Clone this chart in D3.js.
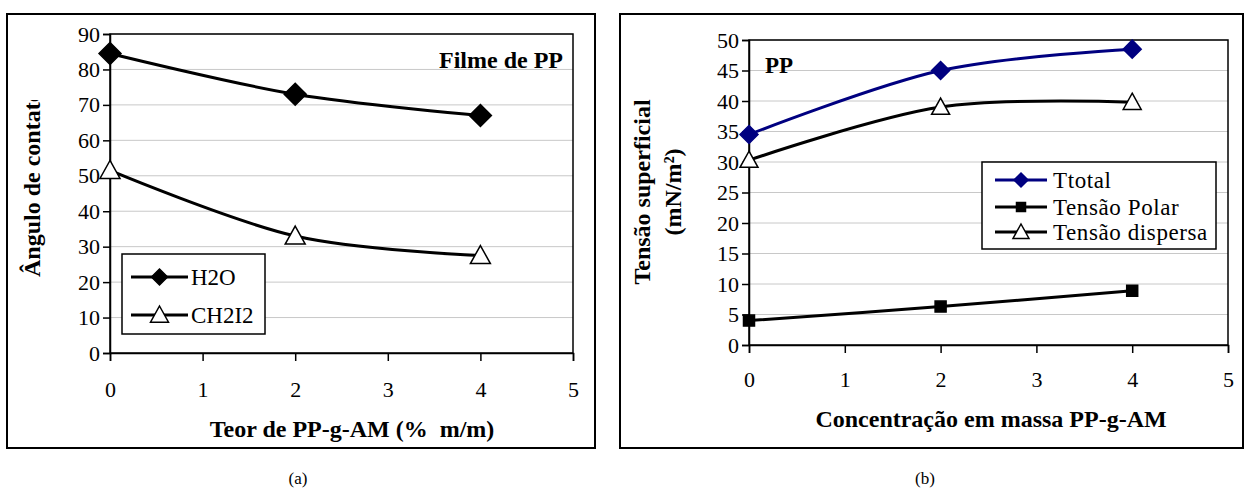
<!DOCTYPE html>
<html>
<head>
<meta charset="utf-8">
<script src="https://cdn.jsdelivr.net/npm/d3@7"></script>
<style>
  body { margin: 0; background: #fff; }
  svg text { font-family: "Liberation Serif", "Times New Roman", serif !important; fill: #000; }
</style>
</head>
<body>
<div id="chart"></div>
<script>
// valores
const teor = [0, 2, 4];
const anguloH2O = [84.5, 73, 67];
const anguloCH2I2 = [51.5, 33, 27.5];
const tensaoTotal = [34.5, 45, 48.5];
const tensaoPolar = [4, 6.3, 8.9];
const tensaoDispersa = [30.3, 39, 39.8];
const xTicks = [0, 1, 2, 3, 4, 5];
const yTicksA = [0, 10, 20, 30, 40, 50, 60, 70, 80, 90];
const yTicksB = [0, 5, 10, 15, 20, 25, 30, 35, 40, 45, 50];

const svg = d3.select('#chart')
  .append('svg')
  .attr('width', 1245)
  .attr('height', 497);

const diamond = r => `M0,${-r}L${r},0L0,${r}L${-r},0Z`;
const triangle = r => `M0,${-r}L${r},${r * 0.8}L${-r},${r * 0.8}Z`;
const square = r => `M${-r},${-r}H${r}V${r}H${-r}Z`;

function panel(o) {
  const g = svg.append('g');

  // moldura externa
  g.append('rect')
    .attr('x', o.box[0]).attr('y', o.box[1])
    .attr('width', o.box[2] - o.box[0]).attr('height', o.box[3] - o.box[1])
    .attr('fill', 'none').attr('stroke', '#000').attr('stroke-width', 2);

  const x = d3.scaleLinear().domain([0, 5]).range([o.plot[0], o.plot[2]]);
  const y = d3.scaleLinear().domain([0, o.yMax]).range([o.plot[3], o.plot[1]]);

  // grade
  g.append('g').selectAll('line')
    .data(o.yTicks.slice(1))
    .enter().append('line')
    .attr('x1', o.plot[0]).attr('x2', o.plot[2])
    .attr('y1', d => y(d)).attr('y2', d => y(d))
    .attr('stroke', '#c8c8c8').attr('stroke-width', 1);

  g.append('rect')
    .attr('x', o.plot[0]).attr('y', o.plot[1])
    .attr('width', o.plot[2] - o.plot[0]).attr('height', o.plot[3] - o.plot[1])
    .attr('fill', 'none').attr('stroke', '#000').attr('stroke-width', 1.5);

  const yAxis = g.append('g')
    .attr('transform', `translate(${o.plot[0]},0)`)
    .call(d3.axisLeft(y).tickValues(o.yTicks).tickFormat(d3.format('d')).tickSize(7).tickPadding(3));
  const xAxis = g.append('g')
    .attr('transform', `translate(0,${o.plot[3]})`)
    .call(d3.axisBottom(x).tickValues(xTicks).tickFormat(d3.format('d')).tickSize(8).tickPadding(o.xPad));
  [yAxis, xAxis].forEach(a => {
    a.attr('font-size', null).attr('font-family', null);
    a.select('.domain').attr('stroke', '#000').attr('stroke-width', 1.5);
    a.selectAll('.tick line').attr('stroke', '#000').attr('stroke-width', 1.5);
    a.selectAll('text').style('font-size', '22px');
  });

  // suavizacao como no Excel (Catmull-Rom uniforme)
  const line = d3.line()
    .x((d, i) => x(teor[i]))
    .y(d => y(d))
    .curve(d3.curveCardinal.tension(0));

  o.series.forEach(s => {
    g.append('path')
      .datum(s.values)
      .attr('d', line)
      .attr('fill', 'none')
      .attr('stroke', s.color)
      .attr('stroke-width', 3);
    g.append('g').selectAll('path')
      .data(s.values)
      .enter().append('path')
      .attr('transform', (d, i) => `translate(${x(teor[i])},${y(d)})`)
      .attr('d', s.shape(s.size))
      .attr('fill', s.fill)
      .attr('stroke', s.fill === '#fff' ? '#000' : s.fill)
      .attr('stroke-width', 1.5);
  });

  // legenda
  const lg = g.append('g');
  lg.append('rect')
    .attr('x', o.legend.x).attr('y', o.legend.y)
    .attr('width', o.legend.w).attr('height', o.legend.h)
    .attr('fill', '#fff').attr('stroke', '#000').attr('stroke-width', 1.5);
  o.series.forEach((s, i) => {
    const cy = o.legend.rows[i];
    lg.append('line')
      .attr('x1', o.legend.l1).attr('x2', o.legend.l2)
      .attr('y1', cy).attr('y2', cy)
      .attr('stroke', s.color).attr('stroke-width', 3);
    lg.append('path')
      .attr('transform', `translate(${(o.legend.l1 + o.legend.l2) / 2},${cy})`)
      .attr('d', s.shape(s.legendSize))
      .attr('fill', s.fill)
      .attr('stroke', s.fill === '#fff' ? '#000' : s.fill)
      .attr('stroke-width', 1.5);
    lg.append('text')
      .attr('x', o.legend.tx).attr('y', cy + 8)
      .style('font-size', o.legend.fs + 'px')
      .style('letter-spacing', (o.legend.ls || 0) + 'px')
      .text(s.name);
  });

  return g;
}

function label(g, txt, opts) {
  const t = g.append('text')
    .attr('transform', opts.t)
    .attr('text-anchor', opts.anchor || 'start')
    .style('font-size', (opts.fs || 24) + 'px')
    .style('font-weight', opts.bold === false ? 'normal' : 'bold')
    .style('white-space', 'pre')
    .text(txt);
  return t;
}

// (a) angulo de contato
const ga = panel({
  box: [7, 14, 595, 448],
  plot: [110, 34, 573, 353],
  yMax: 90,
  yTicks: yTicksA,
  xPad: 20,
  series: [
    {name: 'H2O', values: anguloH2O, color: '#000', fill: '#000', shape: diamond, size: 11, legendSize: 8},
    {name: 'CH2I2', values: anguloCH2I2, color: '#000', fill: '#fff', shape: triangle, size: 10, legendSize: 9}
  ],
  legend: {x: 122, y: 254, w: 143, h: 80, rows: [277, 315], l1: 131, l2: 188, tx: 191, fs: 23}
});

label(ga, 'Filme de PP', {t: 'translate(563,68)', anchor: 'end'});
label(ga, 'Teor de PP-g-AM (%  m/m)', {t: 'translate(352,437)', anchor: 'middle'});

svg.append('clipPath').attr('id', 'clipA')
  .append('rect').attr('x', 0).attr('y', 100).attr('width', 80).attr('height', 220);
label(ga.append('g').attr('clip-path', 'url(#clipA)'), 'Ângulo de contato', {t: 'translate(40,277) rotate(-90)'});

// (b) tensao superficial
const gb = panel({
  box: [620, 14, 1243, 448],
  plot: [749, 40, 1228, 345],
  yMax: 50,
  yTicks: yTicksB,
  xPad: 18,
  series: [
    {name: 'Ttotal', values: tensaoTotal, color: '#000080', fill: '#000080', shape: diamond, size: 9, legendSize: 7},
    {name: 'Tensão Polar', values: tensaoPolar, color: '#000', fill: '#000', shape: square, size: 5.5, legendSize: 4.5},
    {name: 'Tensão dispersa', values: tensaoDispersa, color: '#000', fill: '#fff', shape: triangle, size: 9, legendSize: 8}
  ],
  legend: {x: 982, y: 162, w: 234, h: 87, rows: [180, 207, 232], l1: 995, l2: 1047, tx: 1053, fs: 23, ls: 0.6}
});

label(gb, 'PP', {t: 'translate(765,73)', fs: 23});
label(gb, 'Concentração em massa PP-g-AM', {t: 'translate(991,427)', anchor: 'middle'});
label(gb, 'Tensão superficial', {t: 'translate(650,192) rotate(-90)', anchor: 'middle'});
label(gb, '(mN/m²)', {t: 'translate(681,192) rotate(-90)', anchor: 'middle'});

// legendas das figuras
label(svg, '(a)', {t: 'translate(298,484)', anchor: 'middle', fs: 17, bold: false});
label(svg, '(b)', {t: 'translate(925,484)', anchor: 'middle', fs: 17, bold: false});
</script>
</body>
</html>
